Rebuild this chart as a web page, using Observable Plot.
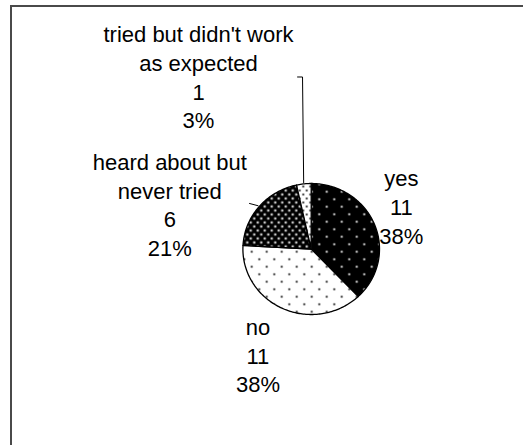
<!DOCTYPE html>
<html>
<head>
<meta charset="utf-8">
<script src="https://cdn.jsdelivr.net/npm/d3@7"></script>
<script src="https://cdn.jsdelivr.net/npm/@observablehq/plot@0.6"></script>
<style>
  html, body { margin: 0; padding: 0; background: #fff; overflow: hidden; }
  #wrap { position: relative; width: 523px; height: 445px; overflow: hidden; }
  #chart { position: absolute; left: 0; top: 0; }
  #frame { position: absolute; left: 10px; top: 5px; width: 700px; height: 700px;
           border: 2px solid #4a4a4a; pointer-events: none; }
</style>
</head>
<body>
<div id="wrap"><div id="chart"></div><div id="frame"></div></div>
<script>
// ---- data ----
const categories = ["yes", "no", "heard about but\nnever tried", "tried but didn't work\nas expected"];
const counts = [11, 11, 6, 1];

// ---- layout (pie-radius units; y up, pie centre at 0,0) ----
const labelPos = [[1.32, 0.66], [-0.78, -1.61], [-2.07, 0.69], [-1.65, 2.64]];
const leaderStart = [null, null, [[-0.903, 0.695]], [[-0.20, 2.626], [-0.127, 2.626]]];
const patternIds = ["pYes", "pNo", "pHeard", "pTried"];

const total = d3.sum(counts);
const arcs = d3.pie().sort(null).value(d => d)(counts);

// slice outlines
const slicePts = [];
arcs.forEach((p, i) => {
  slicePts.push({k: i, x: 0, y: 0});
  const n = Math.max(2, Math.ceil((p.endAngle - p.startAngle) / 0.02));
  for (let j = 0; j <= n; j++) {
    const a = p.startAngle + (p.endAngle - p.startAngle) * j / n;
    slicePts.push({k: i, x: Math.sin(a), y: Math.cos(a)});
  }
});

// labels
const labels = categories.map((c, i) => ({
  x: labelPos[i][0], y: labelPos[i][1],
  text: `${c}\n${counts[i]}\n${Math.round(counts[i] / total * 100)}%`
}));

// leader lines
const leaderPts = [];
arcs.forEach((p, i) => {
  if (!leaderStart[i]) return;
  leaderStart[i].forEach(([x, y]) => leaderPts.push({k: i, x, y}));
  const a = (p.startAngle + p.endAngle) / 2;
  leaderPts.push({k: i, x: Math.sin(a) * 1.02, y: Math.cos(a) * 1.02});
});

const cx = 310.7, cy = 248.5, rx = 68.3, ry = 65.5, W = 523, H = 445;

const svg = Plot.plot({
  width: W, height: H, margin: 0,
  style: {background: "#fff", fontFamily: "'Liberation Sans', Arial, sans-serif", fontSize: "22px", color: "black"},
  x: {domain: [-cx / rx, (W - cx) / rx], axis: null},
  y: {domain: [-(H - cy) / ry, cy / ry], axis: null},
  marks: [
    ...arcs.map((p, i) => Plot.line(slicePts.filter(d => d.k === i), {
      x: "x", y: "y", curve: "linear-closed",
      fill: `url(#${patternIds[i]})`, stroke: "black", strokeWidth: 1.3
    })),
    Plot.line(leaderPts, {x: "x", y: "y", z: "k", stroke: "black", strokeWidth: 1}),
    Plot.text(labels, {x: "x", y: "y", text: "text", lineHeight: 1.3, fill: "black", fontSize: 22})
  ]
});

// pattern definitions
const ns = "http://www.w3.org/2000/svg";
const defs = document.createElementNS(ns, "defs");
function makePattern(id, w, h, bg, dot, r, pts) {
  const pat = document.createElementNS(ns, "pattern");
  pat.setAttribute("id", id);
  pat.setAttribute("patternUnits", "userSpaceOnUse");
  pat.setAttribute("width", w);
  pat.setAttribute("height", h);
  const rect = document.createElementNS(ns, "rect");
  rect.setAttribute("width", w); rect.setAttribute("height", h); rect.setAttribute("fill", bg);
  pat.appendChild(rect);
  pts.forEach(([x, y]) => {
    const c = document.createElementNS(ns, "circle");
    c.setAttribute("cx", x); c.setAttribute("cy", y); c.setAttribute("r", r); c.setAttribute("fill", dot);
    pat.appendChild(c);
  });
  defs.appendChild(pat);
}
makePattern("pYes", 15, 15, "#000", "#fff", 1.1, [[3.75, 3.75], [11.25, 11.25]]);
makePattern("pNo", 15, 15, "#fff", "#000", 1.0, [[3.75, 3.75], [11.25, 11.25]]);
makePattern("pHeard", 7, 8, "#000", "#e0e0e0", 1.2, [[1.75, 2], [5.25, 6]]);
makePattern("pTried", 7, 8, "#fff", "#000", 1.0, [[1.75, 2], [5.25, 6]]);
svg.insertBefore(defs, svg.firstChild);

document.getElementById("chart").appendChild(svg);
</script>
</body>
</html>
